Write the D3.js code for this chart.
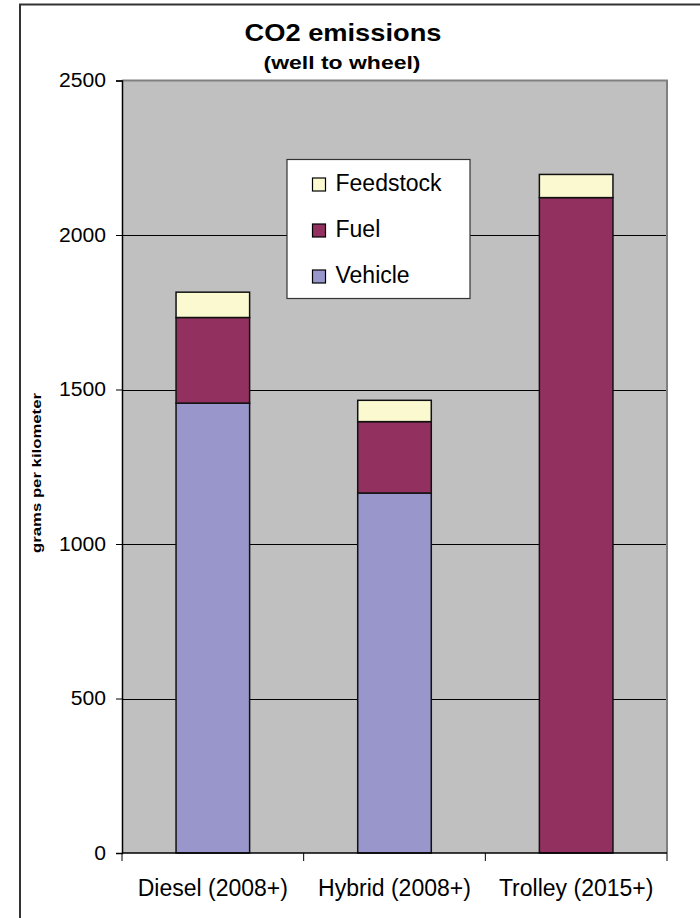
<!DOCTYPE html>
<html>
<head>
<meta charset="utf-8">
<script src="https://cdn.jsdelivr.net/npm/d3@7"></script>
<style>
  html, body { margin: 0; padding: 0; background: #fff; }
  svg { display: block; font-family: "Liberation Sans", Arial, sans-serif; }
</style>
</head>
<body>
<svg id="chart" width="700" height="918"></svg>
<script>
// Well-to-wheel CO2 emissions by bus type, grams per kilometer
const categories = ["Diesel (2008+)", "Hybrid (2008+)", "Trolley (2015+)"];
const vehicle   = [1456, 1165, 0];
const fuel      = [277, 231, 2121];
const feedstock = [82, 69, 75];
const seriesNames = ["Vehicle", "Fuel", "Feedstock"];
const yTicks = [0, 500, 1000, 1500, 2000, 2500];

const colors = { Vehicle: "#9896ca", Fuel: "#92315f", Feedstock: "#fbf9d0" };

const svg = d3.select("#chart");

// outer chart frame (continues past the page edge)
svg.append("rect")
  .attr("x", 20).attr("y", 4.5)
  .attr("width", 720).attr("height", 960)
  .attr("fill", "none").attr("stroke", "#333").attr("stroke-width", 2);

const plot = { left: 122, top: 80.5, right: 667, bottom: 853 };

const x = d3.scaleBand()
  .domain(categories)
  .range([plot.left, plot.right])
  .paddingInner(0.595).paddingOuter(0.2975);

const y = d3.scaleLinear().domain([0, 2500]).range([plot.bottom, plot.top]);

// plot background
svg.append("rect")
  .attr("x", plot.left).attr("y", plot.top)
  .attr("width", plot.right - plot.left).attr("height", plot.bottom - plot.top)
  .attr("fill", "#c0c0c0");

// gridlines
svg.append("g").selectAll("line")
  .data(yTicks.filter(t => t > 0 && t < 2500))
  .join("line")
  .attr("x1", plot.left).attr("x2", plot.right)
  .attr("y1", d => Math.round(y(d)) + 0.5).attr("y2", d => Math.round(y(d)) + 0.5)
  .attr("stroke", "#000").attr("stroke-width", 1);

// plot border, top and right
svg.append("path")
  .attr("d", `M${plot.left},${plot.top}H${plot.right}V${plot.bottom}`)
  .attr("fill", "none").attr("stroke", "#808080").attr("stroke-width", 2);

// stacked bars
const rows = categories.map((c, i) => ({
  category: c, Vehicle: vehicle[i], Fuel: fuel[i], Feedstock: feedstock[i]
}));
const stacked = d3.stack().keys(seriesNames)(rows);

svg.append("g").selectAll("g")
  .data(stacked)
  .join("g")
  .attr("fill", d => colors[d.key])
  .selectAll("rect")
  .data(d => d.filter(s => s[1] - s[0] > 0))
  .join("rect")
  .attr("x", d => x(d.data.category))
  .attr("width", x.bandwidth())
  .attr("y", d => y(d[1]))
  .attr("height", d => y(d[0]) - y(d[1]))
  .attr("stroke", "#111").attr("stroke-width", 1.5);

// y axis
const yAxis = svg.append("g")
  .attr("transform", `translate(${plot.left},0)`)
  .call(d3.axisLeft(y).tickValues(yTicks).tickSize(6).tickPadding(10).tickFormat(d3.format("d")));
yAxis.select(".domain").attr("stroke", "#000").attr("stroke-width", 1.5);
yAxis.selectAll(".tick line").attr("stroke", "#000");
yAxis.selectAll(".tick text")
  .attr("font-size", 19.5).attr("fill", "#000")
  .attr("font-family", "'Liberation Sans', Arial, sans-serif")
  .attr("textLength", d => String(d).length * 11.75)
  .attr("lengthAdjust", "spacingAndGlyphs");

// x axis with ticks at category boundaries
const xAxis = svg.append("g")
  .attr("transform", `translate(0,${plot.bottom})`);
xAxis.append("line")
  .attr("x1", plot.left).attr("x2", plot.right)
  .attr("stroke", "#000").attr("stroke-width", 1.5);
const step = x.step();
xAxis.selectAll(".bound")
  .data(d3.range(categories.length + 1))
  .join("line")
  .attr("x1", i => plot.left + i * step).attr("x2", i => plot.left + i * step)
  .attr("y1", 0).attr("y2", 8)
  .attr("stroke", "#000");
xAxis.selectAll("text")
  .data(categories)
  .join("text")
  .attr("x", d => x(d) + x.bandwidth() / 2)
  .attr("y", 43)
  .attr("text-anchor", "middle")
  .attr("font-size", 23)
  .attr("fill", "#000")
  .text(d => d);

// axis title
svg.append("text")
  .attr("transform", "translate(40.5,473) rotate(-90)")
  .attr("text-anchor", "middle")
  .attr("font-size", 13.5).attr("font-weight", "bold")
  .attr("textLength", 160).attr("lengthAdjust", "spacingAndGlyphs")
  .text("grams per kilometer");

// titles
svg.append("text")
  .attr("x", 343).attr("y", 40.5)
  .attr("text-anchor", "middle")
  .attr("font-size", 24).attr("font-weight", "bold")
  .attr("textLength", 197).attr("lengthAdjust", "spacingAndGlyphs")
  .text("CO2 emissions");
svg.append("text")
  .attr("x", 342).attr("y", 69)
  .attr("text-anchor", "middle")
  .attr("font-size", 19).attr("font-weight", "bold")
  .attr("textLength", 157).attr("lengthAdjust", "spacingAndGlyphs")
  .text("(well to wheel)");

// legend, top entry is the top of the stack
const legend = svg.append("g");
legend.append("rect")
  .attr("x", 287).attr("y", 159.5).attr("width", 183).attr("height", 139)
  .attr("fill", "#fff").attr("stroke", "#333").attr("stroke-width", 1.2);
const legendItems = seriesNames.slice().reverse();
const li = legend.selectAll(".item")
  .data(legendItems)
  .join("g")
  .attr("transform", (d, i) => `translate(312.5,${178 + i * 46})`);
li.append("rect")
  .attr("width", 13).attr("height", 13)
  .attr("fill", d => colors[d]).attr("stroke", "#000").attr("stroke-width", 1.2);
li.append("text")
  .attr("x", 23).attr("y", 12.5)
  .attr("font-size", 23).attr("fill", "#000")
  .text(d => d);
</script>
</body>
</html>
